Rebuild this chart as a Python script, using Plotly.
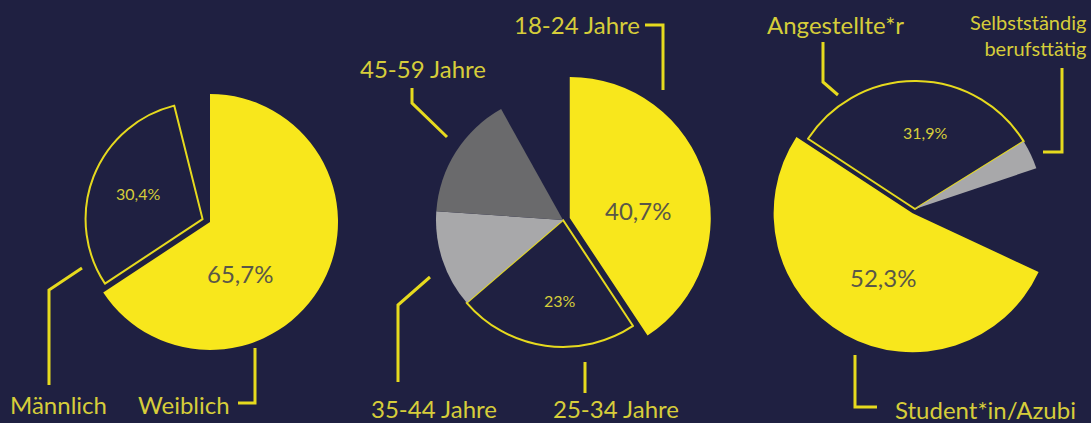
import plotly.graph_objects as go

# ---------------- data ----------------
gender_labels = ["Weiblich", "Männlich"]
gender_values = [65.7, 30.4]

age_labels = ["18-24 Jahre", "25-34 Jahre", "35-44 Jahre", "45-59 Jahre"]
age_values = [40.7, 23.0, 12.4, 15.8]

job_labels = ["Student*in/Azubi", "Angestellte*r", "Selbstständig<br>berufsttätig"]
job_values = [52.3, 31.9, 3.7]

# ---------------- style ----------------
W, H = 1091, 423
BG = "#1f2041"
YEL = "#f8e71c"
LINE_YEL = "#e6da1e"
TXT = "#d6cd3a"
PCT_DARK = "#5a5748"
DGREY = "#6a6a6c"
LGREY = "#a8a8aa"
CLEAR = "rgba(0,0,0,0)"
FONT = "Lato"
LBL_SIZE = 24


def fx(x):
    return x / W


def fy(y):
    return 1 - y / H


def pct(v):
    return ("%g" % v).replace(".", ",") + "%"


fig = go.Figure()


def add_layer(values, colors, line_colors, line_widths, pulls, cx, cy, R, rotation=0):
    vals = list(values) + [round(100 - sum(values), 2)]
    n = len(vals)
    colors = list(colors) + [CLEAR] * (n - len(colors))
    line_colors = list(line_colors) + [CLEAR] * (n - len(line_colors))
    line_widths = list(line_widths) + [0] * (n - len(line_widths))
    pulls = list(pulls) + [0] * (n - len(pulls))
    Reff = R * (1 + max(pulls))
    fig.add_trace(go.Pie(
        values=vals,
        sort=False,
        direction="clockwise",
        rotation=rotation,
        pull=pulls,
        marker=dict(colors=colors, line=dict(color=line_colors, width=line_widths)),
        textinfo="none",
        hoverinfo="skip",
        showlegend=False,
        domain=dict(x=[fx(cx - Reff), fx(cx + Reff)], y=[fy(cy + Reff), fy(cy - Reff)]),
    ))


# Pie 1: gender
add_layer(gender_values, [YEL], [CLEAR], [0], [0], 210, 222, 128)
add_layer(gender_values, [CLEAR, BG], [CLEAR, LINE_YEL], [0, 2], [0, 0.068], 210, 222, 117)

# Pie 2: age
add_layer(age_values, [YEL], [CLEAR], [0], [0.05], 563, 220, 141)
add_layer(age_values, [CLEAR, BG, LGREY, DGREY], [CLEAR, LINE_YEL, CLEAR, CLEAR],
          [0, 2, 0, 0], [0, 0, 0, 0], 563, 220, 127)

# Pie 3: job
add_layer(job_values, [YEL], [CLEAR], [0], [0.035], 915, 209, 139, rotation=115)
add_layer(job_values, [CLEAR, BG, LGREY], [CLEAR, LINE_YEL, CLEAR], [0, 2, 0],
          [0, 0, 0], 915, 209, 128, rotation=115)

# ---------------- percentage labels ----------------
pct_labels = [
    (gender_values[0], 240, 273, 24, PCT_DARK),
    (gender_values[1], 138, 193, 16, TXT),
    (age_values[0], 638, 210, 24, PCT_DARK),
    (age_values[1], 560, 300, 16, TXT),
    (job_values[1], 925, 132, 16, TXT),
    (job_values[0], 883, 277, 24, PCT_DARK),
]
annotations = []
for v, x, y, s, c in pct_labels:
    annotations.append(dict(x=fx(x), y=fy(y), xref="paper", yref="paper", text=pct(v),
                            showarrow=False, xanchor="center", yanchor="middle",
                            font=dict(family=FONT, size=s, color=c)))

# ---------------- category labels ----------------
cat_labels = [
    (gender_labels[1], 8, 404, "left"),
    (gender_labels[0], 136, 404, "left"),
    (age_labels[0], 512, 25, "left"),
    (age_labels[1], 551, 408, "left"),
    (age_labels[2], 369, 408, "left"),
    (age_labels[3], 358, 68, "left"),
    (job_labels[0], 893, 409, "left"),
    (job_labels[1], 765, 25, "left"),
]
for t, x, y, anc in cat_labels:
    annotations.append(dict(x=fx(x), y=fy(y), xref="paper", yref="paper", text=t,
                            showarrow=False, xanchor=anc, yanchor="middle",
                            font=dict(family=FONT, size=LBL_SIZE, color=TXT)))
annotations.append(dict(x=fx(1088), y=fy(35), xref="paper", yref="paper", text=job_labels[2],
                        showarrow=False, xanchor="right", yanchor="middle", align="right",
                        font=dict(family=FONT, size=20, color=TXT)))

# ---------------- connector lines ----------------
connectors = [
    [(82, 268), (49, 290), (49, 385)],
    [(255, 348), (255, 403), (238, 403)],
    [(412, 88), (412, 103), (447, 137)],
    [(645, 25), (663, 25), (663, 90)],
    [(430, 277), (398, 305), (398, 382)],
    [(585, 362), (585, 393)],
    [(823, 42), (823, 82), (838, 95)],
    [(1062, 68), (1062, 152), (1043, 152)],
    [(855, 355), (855, 407), (877, 407)],
]
shapes = []
for pts in connectors:
    path = "M " + " L ".join(f"{fx(x):.5f},{fy(y):.5f}" for x, y in pts)
    shapes.append(dict(type="path", path=path, xref="paper", yref="paper",
                       line=dict(color=LINE_YEL, width=3)))

fig.update_layout(
    width=W, height=H, autosize=False,
    margin=dict(l=0, r=0, t=0, b=0),
    paper_bgcolor=BG, plot_bgcolor=BG,
    annotations=annotations, shapes=shapes,
    showlegend=False,
)

fig.write_html(
    "out.html",
    config={"displayModeBar": False},
    post_script="document.body.style.margin='0';document.body.style.background='%s';" % BG,
)
